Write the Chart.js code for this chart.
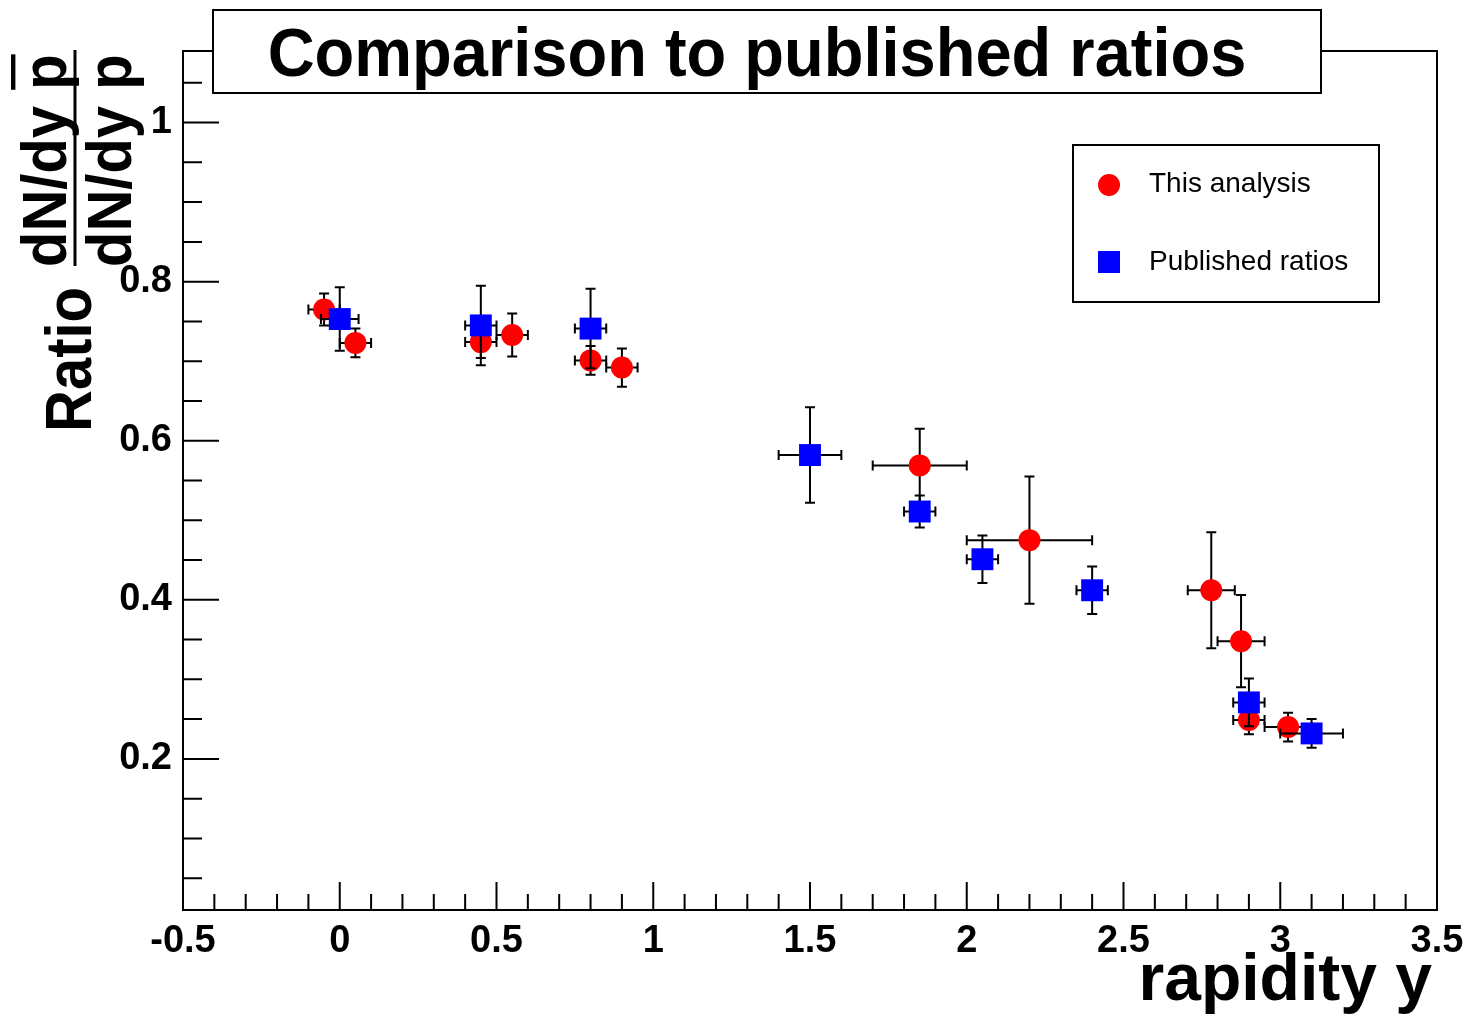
<!DOCTYPE html>
<html>
<head>
<meta charset="utf-8">
<script src="https://cdn.jsdelivr.net/npm/chart.js@4.4.1/dist/chart.umd.min.js"></script>
<style>
  body { margin: 0; background: #fff; }
</style>
</head>
<body>
<canvas id="ratio" width="1467" height="1014"></canvas>
<script>
// This analysis (red circles)
const thisX    = [-0.05, 0.05, 0.45, 0.55, 0.80, 0.90, 1.85, 2.20, 2.78, 2.875, 2.90, 3.025];
const thisY    = [0.765, 0.723, 0.724, 0.733, 0.701, 0.692, 0.569, 0.475, 0.412, 0.348, 0.249, 0.240];
const thisXErr = [0.05, 0.05, 0.05, 0.05, 0.05, 0.05, 0.15, 0.20, 0.075, 0.075, 0.05, 0.075];
const thisYErr = [0.02, 0.018, 0.02, 0.027, 0.018, 0.024, 0.046, 0.08, 0.073, 0.058, 0.018, 0.018];

// Published ratios (blue squares)
const pubX    = [0.0, 0.45, 0.80, 1.50, 1.85, 2.05, 2.40, 2.90, 3.10];
const pubY    = [0.753, 0.745, 0.741, 0.582, 0.511, 0.451, 0.412, 0.271, 0.232];
const pubXErr = [0.06, 0.05, 0.05, 0.10, 0.05, 0.05, 0.05, 0.05, 0.10];
const pubYErr = [0.04, 0.05, 0.05, 0.06, 0.02, 0.03, 0.03, 0.03, 0.018];

const xTicks = [-0.5, 0, 0.5, 1, 1.5, 2, 2.5, 3, 3.5];
const yTicks = [0.2, 0.4, 0.6, 0.8, 1];

const FONT = '"Liberation Sans", Arial, Helvetica, sans-serif';

const points = (xs, ys, exs, eys) => xs.map((x, i) => ({ x: x, y: ys[i], ex: exs[i], ey: eys[i] }));

// ROOT-like frame, error bars, title, legend, axis titles
const rootLook = {
  id: "rootLook",
  beforeDatasetDraw(chart, args) {
    const ds = chart.data.datasets[args.index];
    const xs = chart.scales.x, ys = chart.scales.y;
    const ctx = chart.ctx;
    const cap = 5;
    ctx.save();
    ctx.strokeStyle = "#000";
    ctx.lineWidth = 2;
    args.meta.data.forEach((pt, i) => {
      const d = ds.data[i];
      const x0 = xs.getPixelForValue(d.x - d.ex), x1 = xs.getPixelForValue(d.x + d.ex);
      const y0 = ys.getPixelForValue(d.y - d.ey), y1 = ys.getPixelForValue(d.y + d.ey);
      ctx.beginPath();
      ctx.moveTo(x0, pt.y); ctx.lineTo(x1, pt.y);
      ctx.moveTo(pt.x, y0); ctx.lineTo(pt.x, y1);
      ctx.moveTo(x0, pt.y - cap); ctx.lineTo(x0, pt.y + cap);
      ctx.moveTo(x1, pt.y - cap); ctx.lineTo(x1, pt.y + cap);
      ctx.moveTo(pt.x - cap, y0); ctx.lineTo(pt.x + cap, y0);
      ctx.moveTo(pt.x - cap, y1); ctx.lineTo(pt.x + cap, y1);
      ctx.stroke();
    });
    ctx.restore();
  },
  afterDraw(chart) {
    const ctx = chart.ctx;
    const a = chart.chartArea;
    const xs = chart.scales.x, ys = chart.scales.y;
    ctx.save();
    ctx.strokeStyle = "#000";
    ctx.fillStyle = "#000";

    // frame
    ctx.lineWidth = 2;
    ctx.strokeRect(a.left, a.top, a.right - a.left, a.bottom - a.top);

    // inward ticks
    ctx.beginPath();
    for (let k = 0; k <= 40; k++) {
      const v = -0.5 + k * 0.1;
      const px = xs.getPixelForValue(v);
      const len = k % 5 === 0 ? 28 : 16;
      ctx.moveTo(px, a.bottom); ctx.lineTo(px, a.bottom - len);
    }
    for (let k = 1; k <= 21; k++) {
      const v = k * 0.05;
      const py = ys.getPixelForValue(v);
      const len = k % 4 === 0 ? 36 : 19;
      ctx.moveTo(a.left, py); ctx.lineTo(a.left + len, py);
    }
    ctx.stroke();

    // title box
    ctx.fillStyle = "#fff";
    ctx.fillRect(213, 10, 1108, 83);
    ctx.strokeRect(213, 10, 1108, 83);
    ctx.fillStyle = "#000";
    ctx.font = "bold 65px " + FONT;
    ctx.textAlign = "center";
    ctx.textBaseline = "alphabetic";
    ctx.save();
    ctx.translate(757, 76);
    ctx.scale(1, 1.06);
    ctx.fillText("Comparison to published ratios", 0, 0);
    ctx.restore();

    // legend box
    ctx.fillStyle = "#fff";
    ctx.fillRect(1073, 145, 306, 157);
    ctx.strokeRect(1073, 145, 306, 157);
    const red = chart.data.datasets[0], blue = chart.data.datasets[1];
    ctx.fillStyle = red.backgroundColor;
    ctx.beginPath();
    ctx.arc(1109, 185, 11, 0, Math.PI * 2);
    ctx.fill();
    ctx.fillStyle = blue.backgroundColor;
    ctx.fillRect(1098, 251, 22, 22);
    ctx.fillStyle = "#000";
    ctx.font = "28px " + FONT;
    ctx.textAlign = "left";
    ctx.fillText(red.label, 1149, 192);
    ctx.fillText(blue.label, 1149, 270);

    // x axis title
    ctx.font = "bold 66px " + FONT;
    ctx.textAlign = "right";
    ctx.fillText("rapidity y", 1432, 1000);

    // y axis title: Ratio dN/dy pbar / dN/dy p
    ctx.font = "bold 58px " + FONT;
    ctx.textAlign = "left";
    ctx.save();
    ctx.translate(91, 432);
    ctx.rotate(-Math.PI / 2);
    ctx.scale(1, 1.12);
    ctx.fillText("Ratio", 0, 0);
    ctx.restore();

    ctx.save();
    ctx.translate(66, 267);
    ctx.rotate(-Math.PI / 2);
    ctx.scale(1, 1.1);
    ctx.fillText("dN/dy p", 0, 0);
    const w0 = ctx.measureText("dN/dy ").width;
    const wp = ctx.measureText("p").width;
    ctx.lineWidth = 4;
    ctx.beginPath();
    ctx.moveTo(w0, -48); ctx.lineTo(w0 + wp, -48);
    ctx.stroke();
    ctx.restore();

    ctx.lineWidth = 3;
    ctx.beginPath();
    ctx.moveTo(75, 50); ctx.lineTo(75, 266);
    ctx.stroke();

    ctx.save();
    ctx.translate(131, 267);
    ctx.rotate(-Math.PI / 2);
    ctx.scale(1, 1.1);
    ctx.fillText("dN/dy p", 0, 0);
    ctx.restore();

    ctx.restore();
  }
};

new Chart(document.getElementById("ratio"), {
  type: "scatter",
  data: {
    datasets: [
      {
        label: "This analysis",
        data: points(thisX, thisY, thisXErr, thisYErr),
        backgroundColor: "#ff0000",
        borderWidth: 0,
        pointStyle: "circle",
        pointRadius: 11,
        order: 2,
      },
      {
        label: "Published ratios",
        data: points(pubX, pubY, pubXErr, pubYErr),
        backgroundColor: "#0000ff",
        borderWidth: 0,
        pointStyle: "rect",
        pointRadius: 15.5,
        order: 1,
      },
    ],
  },
  options: {
    responsive: false,
    animation: false,
    events: [],
    layout: { padding: { top: 51, right: 30, left: 0, bottom: 0 } },
    plugins: {
      legend: { display: false },
      tooltip: { enabled: false },
    },
    scales: {
      x: {
        type: "linear",
        min: -0.5,
        max: 3.5,
        afterBuildTicks: (s) => { s.ticks = xTicks.map((v) => ({ value: v })); },
        afterFit: (s) => { s.height = 104; s.paddingLeft = 0; s.paddingRight = 0; },
        grid: { display: false, drawTicks: false },
        border: { display: false },
        ticks: {
          color: "#000",
          padding: 9,
          maxRotation: 0,
          autoSkip: false,
          font: { family: FONT, size: 38, weight: "bold" },
          callback: (v) => String(v),
        },
      },
      y: {
        type: "linear",
        min: 0.01,
        max: 1.09,
        afterBuildTicks: (s) => { s.ticks = yTicks.map((v) => ({ value: v })); },
        afterFit: (s) => { s.width = 183; s.paddingTop = 0; s.paddingBottom = 0; },
        grid: { display: false, drawTicks: false },
        border: { display: false },
        ticks: {
          color: "#000",
          padding: 11,
          autoSkip: false,
          font: { family: FONT, size: 38, weight: "bold" },
          callback: (v) => String(v),
        },
      },
    },
  },
  plugins: [rootLook],
});
</script>
</body>
</html>
